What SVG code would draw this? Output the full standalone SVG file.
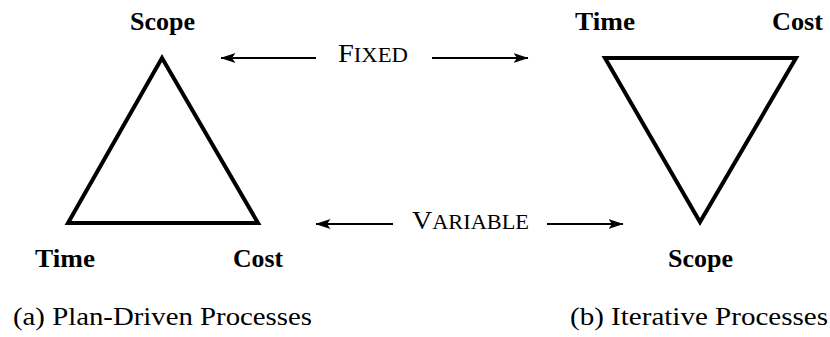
<svg xmlns="http://www.w3.org/2000/svg" width="830" height="337" viewBox="0 0 830 337">
  <style>
    .tri { fill: none; stroke: #000; stroke-width: 4; stroke-linejoin: miter; }
    .lbl { font-family: "Liberation Serif", "DejaVu Serif", serif; font-weight: bold; font-size: 26px; fill: #000; }
    .sc { font-family: "Liberation Serif", "DejaVu Serif", serif; font-size: 25px; fill: #000; }
    .cap { font-family: "Liberation Serif", "DejaVu Serif", serif; font-size: 26px; fill: #000; }
    .arr { stroke: #000; stroke-width: 1.8; fill: none; marker-end: url(#head); }
  </style>
  <defs>
    <marker id="head" viewBox="0 0 15 10" refX="14.5" refY="5" markerWidth="15" markerHeight="10" markerUnits="userSpaceOnUse" orient="auto">
      <path d="M0,0 L15,5 L0,10 L3.5,5 Z" fill="#000"/>
    </marker>
  </defs>

  <!-- plan-driven triangle: scope fixed at the apex -->
  <g id="plan-driven">
    <polygon class="tri" points="162,58 68,223 258,223"/>
    <text class="lbl" x="130" y="30" textLength="65" lengthAdjust="spacingAndGlyphs">Scope</text>
    <text class="lbl" x="35" y="267" textLength="60" lengthAdjust="spacingAndGlyphs">Time</text>
    <text class="lbl" x="233" y="267" textLength="50" lengthAdjust="spacingAndGlyphs">Cost</text>
  </g>

  <!-- iterative triangle: time and cost fixed on top -->
  <g id="iterative">
    <polygon class="tri" points="605,58 796,58 700,222"/>
    <text class="lbl" x="575" y="30" textLength="60" lengthAdjust="spacingAndGlyphs">Time</text>
    <text class="lbl" x="772" y="30" textLength="51" lengthAdjust="spacingAndGlyphs">Cost</text>
    <text class="lbl" x="668" y="267" textLength="65" lengthAdjust="spacingAndGlyphs">Scope</text>
  </g>

  <!-- fixed / variable labels -->
  <g id="fixed-label">
    <text class="sc" x="338" y="62" textLength="70" lengthAdjust="spacingAndGlyphs">F<tspan font-size="20">IXED</tspan></text>
  </g>
  <g id="variable-label">
    <text class="sc" x="412" y="229" textLength="117" lengthAdjust="spacingAndGlyphs">V<tspan font-size="20">ARIABLE</tspan></text>
  </g>

  <g id="connectors">
    <line class="arr" x1="316" y1="58" x2="221" y2="58"/>
    <line class="arr" x1="432" y1="58" x2="528" y2="58"/>
    <line class="arr" x1="393" y1="224" x2="316" y2="224"/>
    <line class="arr" x1="547" y1="224" x2="623" y2="224"/>
  </g>

  <!-- captions -->
  <text class="cap" x="13" y="325" textLength="299" lengthAdjust="spacingAndGlyphs">(a) Plan-Driven Processes</text>
  <text class="cap" x="570" y="325" textLength="258" lengthAdjust="spacingAndGlyphs">(b) Iterative Processes</text>
</svg>
